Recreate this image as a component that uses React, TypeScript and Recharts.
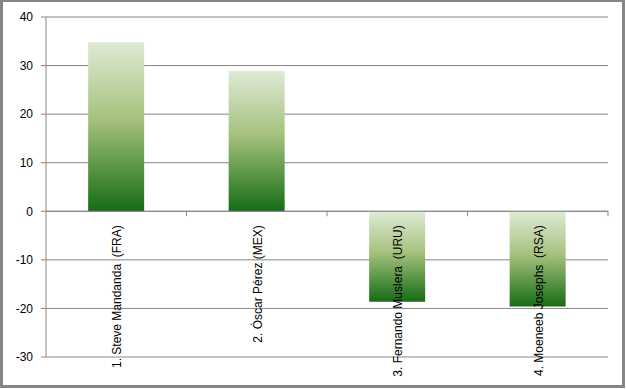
import React from 'react';
import { BarChart, Bar, XAxis, YAxis, CartesianGrid, ReferenceLine, ReferenceDot } from 'recharts';

// Goalkeepers and their values
const players = ['1. Steve Mandanda  (FRA)', '2. Óscar Pérez (MEX)', '3. Fernando Muslera  (URU)', '4. Moeneeb Josephs  (RSA)'];
const values = [34.8, 28.9, -18.6, -19.6];
const yTicks = [-30, -20, -10, 0, 10, 20, 30, 40];

const data = players.map((name, i) => ({ name, value: values[i] }));

const W = 625;
const H = 388;
const margin = { top: 17, right: 17, bottom: 31, left: 0 };
const Y_AXIS_W = 46;
const BAND = (W - margin.left - margin.right - Y_AXIS_W) / players.length;
const GRAY = '#868686';

const CategoryLabel = (props: any) => {
  const { cx, cy, label } = props;
  return (
    <g>
      <line x1={cx + BAND / 2} y1={cy} x2={cx + BAND / 2} y2={cy + 5} stroke={GRAY} strokeWidth={1} />
      <text
        x={cx + 5}
        y={cy + 14}
        transform={`rotate(-90, ${cx + 5}, ${cy + 14})`}
        textAnchor="end"
        fontSize={12}
        fontFamily="'Liberation Sans', Arial, sans-serif"
        fill="#000"
        xmlSpace="preserve"
        style={{ whiteSpace: 'pre' }}
      >
        {label}
      </text>
    </g>
  );
};

export default function App() {
  return (
    <div style={{ position: 'absolute', left: 0, top: 0, width: W, height: H, background: '#fff' }}>
      <BarChart width={W} height={H} data={data} margin={margin} barCategoryGap="30%">
        <defs>
          <linearGradient id="greenFill" x1="0" y1="0" x2="0" y2="1">
            <stop offset="0%" stopColor="#dfead6" />
            <stop offset="45%" stopColor="#a6c27f" />
            <stop offset="100%" stopColor="#166c16" />
          </linearGradient>
        </defs>
        <CartesianGrid vertical={false} stroke={GRAY} strokeWidth={1} />
        <XAxis dataKey="name" hide />
        <YAxis
          width={Y_AXIS_W}
          domain={[-30, 40]}
          ticks={yTicks}
          interval={0}
          stroke={GRAY}
          tickSize={5}
          tickMargin={8}
          tick={{ fill: '#000', fontSize: 12, fontFamily: "'Liberation Sans', Arial, sans-serif" }}
        />
        <Bar dataKey="value" fill="url(#greenFill)" isAnimationActive={false} />
        <ReferenceLine y={0} stroke={GRAY} strokeWidth={1} />
        {players.map((p) => (
          <ReferenceDot
            key={p}
            x={p}
            y={0}
            r={0}
            shape={(sp: any) => <CategoryLabel {...sp} label={p} />}
          />
        ))}
      </BarChart>
      <div
        style={{
          position: 'absolute',
          left: 0,
          top: 0,
          width: W - 6,
          height: H - 5,
          borderStyle: 'solid',
          borderColor: GRAY,
          borderWidth: '2px 3px 3px 3px',
          pointerEvents: 'none',
        }}
      />
    </div>
  );
}
